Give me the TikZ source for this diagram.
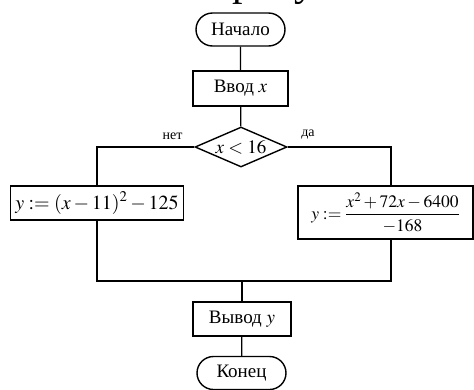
\documentclass[tikz,border=0pt]{standalone}
\usepackage{mathptmx}
\usepackage{fontspec}
\setmainfont{Liberation Serif}
\usetikzlibrary{shapes.geometric,shapes.misc}
\tikzset{
  box/.style={draw, line width=1.4pt, inner sep=0pt, align=center},
  term/.style={box, rounded rectangle, minimum width=89pt, minimum height=33pt, font=\fontsize{19}{21}\selectfont},
  proc/.style={box, rectangle, font=\fontsize{19}{21}\selectfont},
  cond/.style={box, diamond, minimum width=92pt, minimum height=40pt, aspect=2.3, font=\fontsize{19}{21}\selectfont},
  flow/.style={draw, line width=1.2pt},
  lbl/.style={font=\fontsize{14}{15}\selectfont, inner sep=0pt}
}
\begin{document}
\begin{tikzpicture}[x=1pt, y=-1pt, line join=miter]
  \useasboundingbox (0,0) rectangle (474,389);
  \clip (0,0) rectangle (474,389);

  % caption line above the chart
  \node[anchor=base east, inner sep=0pt, font=\fontsize{42}{46}\selectfont] (cap) at (376,-5) {ли показана на рисунке};

  % blocks
  \node[term] (start) at (240.5,29.5) {Начало};
  \node[proc, minimum width=95pt, minimum height=35pt] (input) at (240.5,88.5) {Ввод $x$};
  \node[cond] (test) at (241,147) {$x<16$};
  \node[proc, minimum width=173pt, minimum height=34pt, font=\fontsize{20}{22}\selectfont] (left) at (97,203)
    {$y:=(x-11)^2-125$};
  \node[proc, minimum width=175pt, minimum height=53pt, font=\fontsize{17.5}{19}\selectfont] (right) at (385.5,212.5)
    {$y:={\displaystyle\frac{x^2+72x-6400}{-168}}$};
  \node[proc, minimum width=98pt, minimum height=34pt] (output) at (242,319) {Вывод $y$};
  \node[term] (stop) at (241.5,373) {Конец};

  % branch labels
  \node[lbl] (no) at (172.5,136) {нет};
  \node[lbl] (yes) at (308,135) {да};

  % junction points
  \coordinate (rj) at (391,147);
  \coordinate (mg) at (242,281);

  % connectors
  \draw[flow] (start) -- (input);
  \draw[flow] (input) -- (test);
  \draw[flow] (test.west) -| (left.north);
  \draw[flow] (test.east) -- (rj) -- (rj |- right.north);
  \draw[flow] (left.south) |- (mg);
  \draw[flow] (rj |- right.south) |- (mg);
  \draw[flow] (mg) -- (output);
  \draw[flow] (output) -- (stop);
\end{tikzpicture}
\end{document}
